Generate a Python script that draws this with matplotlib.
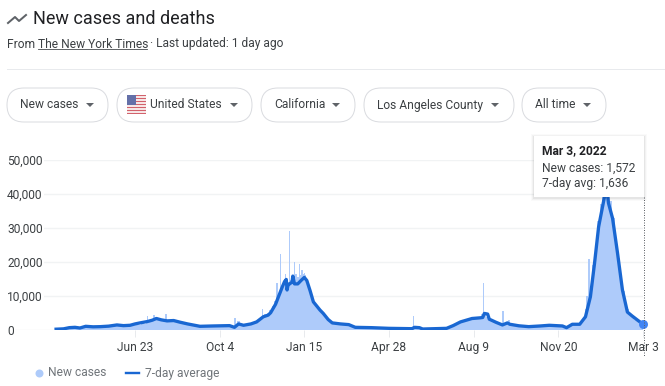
#!/usr/bin/env python3
import matplotlib
matplotlib.use("Agg")
import matplotlib.pyplot as plt
import matplotlib.patches as patches
import pandas as pd

plt.rcParams["font.family"] = ["Roboto", "DejaVu Sans"]

# days are counted from the first day of the series
start = pd.Timestamp("2020-03-18")

# new cases, one value every 3 days from day 1 to day 715
cases_step = 3
cases = [
    100, 100, 150, 200, 300, 400, 500, 550, 600, 650, 650, 600, 550, 500, 450, 700, 850, 950, 900, 850,
    850, 900, 900, 950, 1000, 1050, 1100, 1200, 1300, 1350, 1300, 1300, 1300, 1400, 1500, 1700, 1800, 2000, 2200, 2500,
    3000, 3400, 3400, 3200, 2900, 2700, 2600, 2800, 2900, 2800, 2600, 2400, 2100, 1900, 1800, 1700, 1600, 1400, 1200, 1100,
    1000, 1000, 1050, 1100, 1100, 1150, 1150, 1200, 1200, 1200, 1200, 1100, 800, 1200, 2500, 1500, 1300, 1400, 1600, 1900,
    2100, 2500, 3000, 3800, 4200, 4500, 4800, 5800, 7000, 8500, 10000, 11500, 13500, 14500, 14000, 14500, 16000, 16500, 15500, 16000,
    16500, 16000, 13500, 11000, 9000, 7500, 6500, 5800, 4800, 4100, 3400, 2700, 2100, 1900, 1700, 1600, 1500, 1400, 1300, 1100,
    900, 700, 600, 600, 550, 550, 500, 500, 500, 500, 500, 450, 450, 450, 450, 400, 400, 400, 400, 400,
    350, 350, 350, 350, 350, 300, 600, 600, 200, 200, 200, 250, 250, 250, 300, 300, 300, 400, 400, 450,
    1000, 1300, 1600, 2000, 2300, 2600, 2800, 3000, 3200, 3300, 3400, 3500, 3500, 4500, 4800, 3600, 3000, 2700, 2400, 2100,
    1700, 1400, 1800, 2000, 1500, 1300, 1200, 1100, 1000, 1000, 950, 900, 900, 900, 950, 1000, 1050, 1100, 1200, 1250,
    1300, 1250, 1200, 1150, 1100, 1050, 900, 700, 1200, 1600, 1600, 1600, 1700, 2200, 3500, 6000, 8000, 13000, 19000, 25000,
    32000, 37000, 42000, 45000, 44000, 38000, 33000, 26000, 21000, 15500, 11500, 8000, 6000, 4500, 3800, 3000, 2500, 2000, 1572,
]

# single days that stand out above the rest
spike_days = [112, 120, 135, 219, 252, 270, 274, 280, 285, 291, 297, 300, 303, 436, 521, 545, 552, 647, 649]
spike_values = [3900, 4300, 4700, 3500, 6000, 13800, 22200, 16500, 29200, 20000, 19400, 17500, 16800, 4000, 13700, 5600, 2800, 10000, 20800]

# 7-day average
avg_days = [
    1, 10, 17, 24, 30, 37, 46, 55, 65, 75, 83, 91, 97, 103, 112, 118, 123, 129, 136, 144,
    152, 161, 176, 192, 212, 218, 223, 229, 238, 245, 253, 259, 262, 268, 272, 276, 279, 281, 282, 283,
    285, 288, 289, 291, 295, 299, 303, 306, 310, 314, 322, 326, 332, 337, 347, 357, 365, 385, 406, 434,
    437, 443, 447, 476, 484, 493, 507, 517, 520, 522, 526, 528, 536, 544, 550, 553, 564, 576, 590, 601,
    617, 622, 629, 638, 645, 651, 656, 661, 668, 671, 673, 678, 684, 690, 696, 702, 709, 715,
]
avg_values = [
    150, 250, 600, 700, 500, 1000, 850, 900, 1050, 1400, 1200, 1300, 1700, 2000, 2400, 2800, 3300, 2900, 2600, 2700,
    2200, 1700, 1000, 1100, 1200, 700, 1700, 1300, 1700, 2300, 3800, 4300, 5000, 7500, 10000, 12500, 14200, 14800, 11700, 13000,
    13500, 14000, 15800, 13500, 13500, 14500, 15400, 14500, 11500, 8200, 5800, 4800, 3000, 2000, 1700, 1500, 700, 600, 400, 300,
    700, 600, 200, 400, 1200, 2300, 3300, 3500, 3600, 4800, 4600, 3100, 2200, 1400, 2000, 1600, 1150, 900, 1100, 1300,
    1100, 600, 1600, 1600, 3800, 9700, 19500, 30300, 39000, 41500, 37300, 32800, 22600, 11700, 5200, 4000, 2700, 1636,
]

y_ticks = [0, 10000, 20000, 30000, 40000, 50000]
y_labels = ["0", "10,000", "20,000", "30,000", "40,000", "50,000"]
x_tick_dates = ["2020-06-23", "2020-10-04", "2021-01-15", "2021-04-28", "2021-08-09", "2021-11-20", "2022-03-03"]
x_tick_labels = ["Jun 23", "Oct 4", "Jan 15", "Apr 28", "Aug 9", "Nov 20", "Mar 3"]

chips = ["New cases", "United States", "California", "Los Angeles County", "All time"]
chip_left = [7, 117, 261, 364, 522]
chip_right = [108, 252, 355, 514, 606]
chip_text_x = [20, 150, 274, 377, 535]
chip_arrow_x = [90, 234, 336, 495, 587]

W, H = 665, 386
LIGHT = "#aecbfa"
BLUE = "#1967d2"
DARK = "#3c4043"
GREY = "#5f6368"
px = 72 / 100  # pixels to points


def to_date(days):
    return start + pd.to_timedelta(days, unit="D")


fig = plt.figure(figsize=(W / 100, H / 100), dpi=100)

# chart axes, placed by pixels of the picture
left, right, top, bottom = 15, 643, 160, 329.7
ax = fig.add_axes([left / W, 1 - bottom / H, (right - left) / W, (bottom - top) / H])

cases_days = [1 + i * cases_step for i in range(len(cases))]
ax.bar(to_date(cases_days), cases, width=cases_step, color=LIGHT, linewidth=0, zorder=2)
ax.bar(to_date(spike_days), spike_values, width=2, color=LIGHT, linewidth=0, zorder=2)
ax.plot(to_date(avg_days), avg_values, color=BLUE, lw=3.3 * px, solid_joinstyle="round", zorder=3)
ax.plot(to_date(avg_days[-1:]), avg_values[-1:], "o", ms=9 * px, color="#4285f4", mew=0, clip_on=False, zorder=5)

last_day = pd.Timestamp("2022-03-03")
ax.set_xlim(last_day - pd.Timedelta(days=(right - left) / 0.822), last_day)
ax.set_ylim(0, 50000)
ax.set_yticks(y_ticks, y_labels)
ax.set_xticks(pd.to_datetime(x_tick_dates), x_tick_labels)
ax.grid(axis="y", color="#f1f3f4", lw=1.4 * px, zorder=1)
ax.set_axisbelow(True)
for side in ax.spines:
    ax.spines[side].set_visible(False)
ax.tick_params(axis="x", length=7 * px, width=1 * px, color="#e8eaed", pad=4 * px, labelsize=12 * px, labelcolor=DARK)
ax.tick_params(axis="y", length=0, pad=8 * px, labelsize=12 * px, labelcolor=DARK)
for t in ax.get_yticklabels():
    t.set_ha("left")
    t.set_bbox(dict(facecolor="white", edgecolor="none", pad=1))
ax.patch.set_alpha(0)

# page furniture, drawn in picture pixels
ui = fig.add_axes([0, 0, 1, 1], zorder=10)
ui.set_xlim(0, W)
ui.set_ylim(H, 0)
ui.axis("off")
ui.patch.set_alpha(0)

ui.plot([8, 15, 19, 26], [23, 17, 21, 15], color=GREY, lw=2 * px)
ui.text(33, 19, "New cases and deaths", fontsize=18 * px, color="#202124", va="center")
ui.text(7, 44, "From", fontsize=12 * px, color=DARK, va="center")
ui.text(38, 44, "The New York Times", fontsize=12 * px, color=DARK, va="center")
ui.plot([38, 147], [49, 49], color=DARK, lw=0.8 * px)
ui.text(150, 44, "· Last updated: 1 day ago", fontsize=12 * px, color=DARK, va="center")
ui.plot([7, W], [68.5, 68.5], color="#e8eaed", lw=1 * px)

for name, x0, x1, tx, ax_x in zip(chips, chip_left, chip_right, chip_text_x, chip_arrow_x):
    ui.add_patch(patches.FancyBboxPatch((x0 + 17, 88 + 17), x1 - x0 - 34, 0, boxstyle="round,pad=17,rounding_size=17",
                                        facecolor="white", edgecolor="#dadce0", lw=1 * px))
    ui.text(tx, 105, name, fontsize=12 * px, color=DARK, va="center")
    ui.add_patch(patches.Polygon([(ax_x - 4, 103), (ax_x + 4, 103), (ax_x, 107)], facecolor=GREY, edgecolor="none"))

# flag on the second chip
for i in range(13):
    ui.add_patch(patches.Rectangle((127, 94.5 + i * 1.5), 19, 1.5, facecolor="#d2626c" if i % 2 == 0 else "#f6e6e6", edgecolor="none"))
ui.add_patch(patches.Rectangle((127, 94.5), 9, 10, facecolor="#6470a8", edgecolor="none"))

# tooltip and hover line
ui.plot([643.5, 643.5], [197, 357], color=GREY, lw=1 * px, ls=(0, (1, 1.5)), zorder=1)
for off, alpha in [(3, 0.02), (2, 0.03), (1, 0.05)]:
    ui.add_patch(patches.Rectangle((534 - off, 136 - off + 1), 110 + 2 * off, 61 + 2 * off, facecolor="black", alpha=alpha, edgecolor="none", zorder=2))
ui.add_patch(patches.Rectangle((534, 136), 110, 61, facecolor="white", edgecolor="none", zorder=3))
ui.text(542, 151, "Mar 3, 2022", fontsize=12 * px, fontweight="bold", color="#202124", va="center", zorder=4)
ui.text(542, 168, "New cases: 1,572", fontsize=12 * px, color=DARK, va="center", zorder=4)
ui.text(542, 184, "7-day avg: 1,636", fontsize=12 * px, color=DARK, va="center", zorder=4)

# legend
ui.plot([39], [373], "o", ms=8 * px, color=LIGHT, mew=0)
ui.text(48, 373, "New cases", fontsize=12 * px, color="#70757a", va="center")
ui.plot([126, 139], [373, 373], color=BLUE, lw=2.4 * px)
ui.text(145, 373, "7-day average", fontsize=12 * px, color="#70757a", va="center")

fig.savefig("out.png", dpi=100)
plt.close()
